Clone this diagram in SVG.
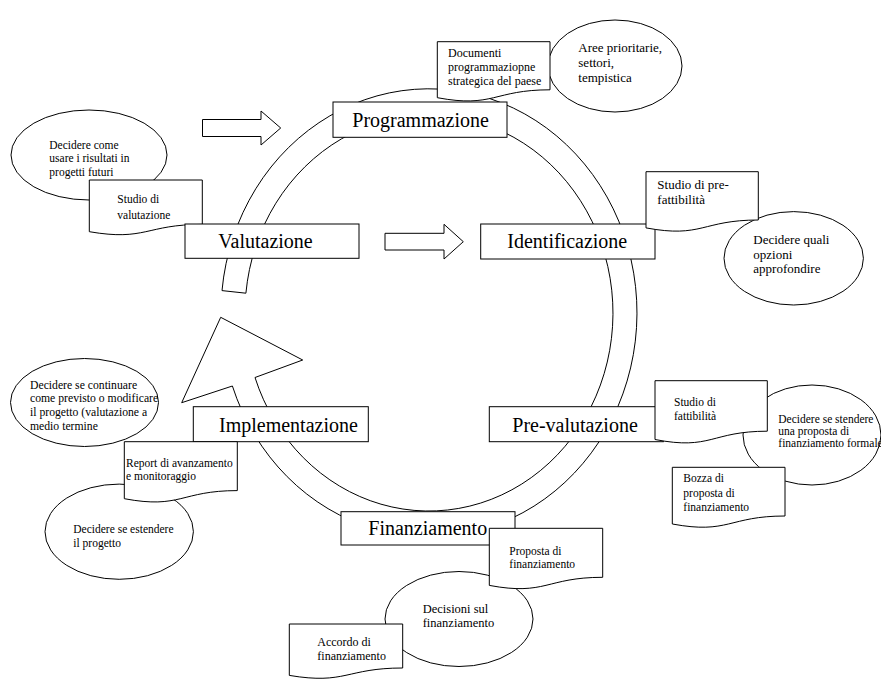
<svg xmlns="http://www.w3.org/2000/svg" width="881" height="680" viewBox="0 0 881 680">
  <style>
    .shape { fill: #ffffff; stroke: #000000; stroke-width: 1; }
    .t { font-family: "Liberation Serif", "Times New Roman", serif; fill: #000000; }
    .big { font-size: 20px; }
    .s115 { font-size: 11.5px; }
    .s117 { font-size: 11.7px; }
    .s12 { font-size: 12px; }
    .s125 { font-size: 12.5px; }
    .s13 { font-size: 13px; }
  </style>

  <rect x="0" y="0" width="881" height="680" fill="#ffffff"/>

  <!-- cycle arrow and block arrows -->
  <g id="connectors">
    <path class="shape" d="M222.0,290.6 A208,224 0 1 1 232.4,386.0 L181.7,402.7 L220.7,317.3 L302.7,360 L255.0,377.5 A184,198 0 1 0 245.9,293.2 Z"/>
    <path class="shape" d="M202.5,119.5 H261 V111 L280.7,128 L261,145 V136.5 H202.5 Z"/>
    <path class="shape" d="M385,233.3 H444 V224.3 L463.3,241.7 L444,259 V250 H385 Z"/>
  </g>

  <!-- Valutazione cluster -->
  <g id="ell-usare">
    <ellipse class="shape" cx="89" cy="155" rx="78" ry="45"/>
    <text class="t s115"><tspan x="49.3" y="148.5">Decidere come</tspan><tspan x="49.3" y="162">usare i risultati in</tspan><tspan x="49.3" y="175.5">progetti futuri</tspan></text>
  </g>
  <g id="doc-studio-valutazione">
    <path class="shape" d="M89.3,180 H202.3 V224.4 C145.8,224.4 145.8,241.4 89.3,231.7 Z"/>
    <text class="t s115"><tspan x="117.3" y="203">Studio di</tspan><tspan x="117.3" y="219">valutazione</tspan></text>
  </g>
  <g id="valutazione">
    <rect class="shape" x="185" y="224" width="174" height="34.3"/>
    <text class="t big" x="218.3" y="248.3">Valutazione</text>
  </g>

  <!-- Programmazione cluster -->
  <g id="programmazione">
    <rect class="shape" x="333" y="102" width="174" height="35.3"/>
    <text class="t big" x="352.3" y="126.7">Programmazione</text>
  </g>
  <g id="ell-aree">
    <ellipse class="shape" cx="615" cy="66" rx="67" ry="46"/>
    <text class="t s13"><tspan x="578.3" y="52">Aree prioritarie,</tspan><tspan x="578.3" y="67">settori,</tspan><tspan x="578.3" y="82">tempistica</tspan></text>
  </g>
  <g id="doc-documenti">
    <path class="shape" d="M437.3,41.7 H550 V89.8 C493.7,89.8 493.7,108.2 437.3,97.7 Z"/>
    <text class="t s12"><tspan x="448" y="57">Documenti</tspan><tspan x="448" y="71">programmaziopne</tspan><tspan x="448" y="85">strategica del paese</tspan></text>
  </g>

  <!-- Identificazione cluster -->
  <g id="identificazione">
    <rect class="shape" x="480.7" y="224" width="174.3" height="35"/>
    <text class="t big" x="507.3" y="248.3">Identificazione</text>
  </g>
  <g id="ell-opzioni">
    <ellipse class="shape" cx="793.7" cy="258.3" rx="69.7" ry="46.7"/>
    <text class="t s13"><tspan x="753.3" y="244">Decidere quali</tspan><tspan x="753.3" y="258.5">opzioni</tspan><tspan x="753.3" y="273">approfondire</tspan></text>
  </g>
  <g id="doc-prefattibilita">
    <path class="shape" d="M646,171.7 H758.3 V220 C702.2,220 702.2,238.4 646,227.9 Z"/>
    <text class="t s13"><tspan x="657.3" y="189">Studio di pre-</tspan><tspan x="657.3" y="204">fattibilità</tspan></text>
  </g>

  <!-- Pre-valutazione cluster -->
  <g id="prevalutazione">
    <rect class="shape" x="489.3" y="406.7" width="174" height="35"/>
    <text class="t big" x="512.3" y="431.7">Pre-valutazione</text>
  </g>
  <g id="ell-stendere">
    <ellipse class="shape" cx="812" cy="435" rx="69" ry="50"/>
    <text class="t s115"><tspan x="778.3" y="423.3">Decidere se stendere</tspan><tspan x="778.3" y="435">una proposta di</tspan><tspan x="778.3" y="446.7">finanziamento formale</tspan></text>
  </g>
  <g id="doc-fattibilita">
    <path class="shape" d="M655,380.7 H767.3 V431.2 C711.2,431.2 711.2,450.5 655,439.5 Z"/>
    <text class="t s115"><tspan x="674" y="406.3">Studio di</tspan><tspan x="674" y="419.7">fattibilità</tspan></text>
  </g>
  <g id="doc-bozza">
    <path class="shape" d="M672.3,467.3 H785 V516 C728.7,516 728.7,534.5 672.3,524 Z"/>
    <text class="t s115"><tspan x="683.3" y="482">Bozza di</tspan><tspan x="683.3" y="496.5">proposta di</tspan><tspan x="683.3" y="511">finanziamento</tspan></text>
  </g>

  <!-- Finanziamento cluster -->
  <g id="finanziamento">
    <rect class="shape" x="341" y="511.7" width="174" height="33.3"/>
    <text class="t big" x="368.3" y="535">Finanziamento</text>
  </g>
  <g id="ell-decisioni">
    <ellipse class="shape" cx="459" cy="619" rx="74" ry="47.5"/>
    <text class="t s125"><tspan x="422.7" y="613.3">Decisioni sul</tspan><tspan x="422.7" y="627">finanziamento</tspan></text>
  </g>
  <g id="doc-proposta">
    <path class="shape" d="M489.3,528.3 H602.7 V577.3 C546,577.3 546,596 489.3,585.4 Z"/>
    <text class="t s115"><tspan x="509.3" y="554.5">Proposta di</tspan><tspan x="509.3" y="567.5">finanziamento</tspan></text>
  </g>
  <g id="doc-accordo">
    <path class="shape" d="M289.3,624 H402.7 V668 C346,668 346,684.9 289.3,675.4 Z"/>
    <text class="t s12"><tspan x="317.3" y="645.5">Accordo di</tspan><tspan x="317.3" y="659.5">finanziamento</tspan></text>
  </g>

  <!-- Implementazione cluster -->
  <g id="implementazione">
    <rect class="shape" x="193.3" y="406.7" width="175" height="35"/>
    <text class="t big" x="219" y="431.7">Implementazione</text>
  </g>
  <g id="ell-continuare">
    <ellipse class="shape" cx="84.5" cy="402.5" rx="74" ry="44"/>
    <text class="t s117"><tspan x="30" y="388.5">Decidere se continuare</tspan><tspan x="30" y="402">come previsto o modificare</tspan><tspan x="30" y="415.5">il progetto (valutazione a</tspan><tspan x="30" y="429.5">medio termine</tspan></text>
  </g>
  <g id="ell-estendere">
    <ellipse class="shape" cx="119.2" cy="531.7" rx="74.2" ry="47.6"/>
    <text class="t s115"><tspan x="73.3" y="533.3">Decidere se estendere</tspan><tspan x="73.3" y="546.7">il progetto</tspan></text>
  </g>
  <g id="doc-report">
    <path class="shape" d="M124.3,441.7 H237.3 V490.6 C180.8,490.6 180.8,509.3 124.3,498.7 Z"/>
    <text class="t s115"><tspan x="126" y="466.7">Report di avanzamento</tspan><tspan x="126" y="480">e monitoraggio</tspan></text>
  </g>
</svg>
